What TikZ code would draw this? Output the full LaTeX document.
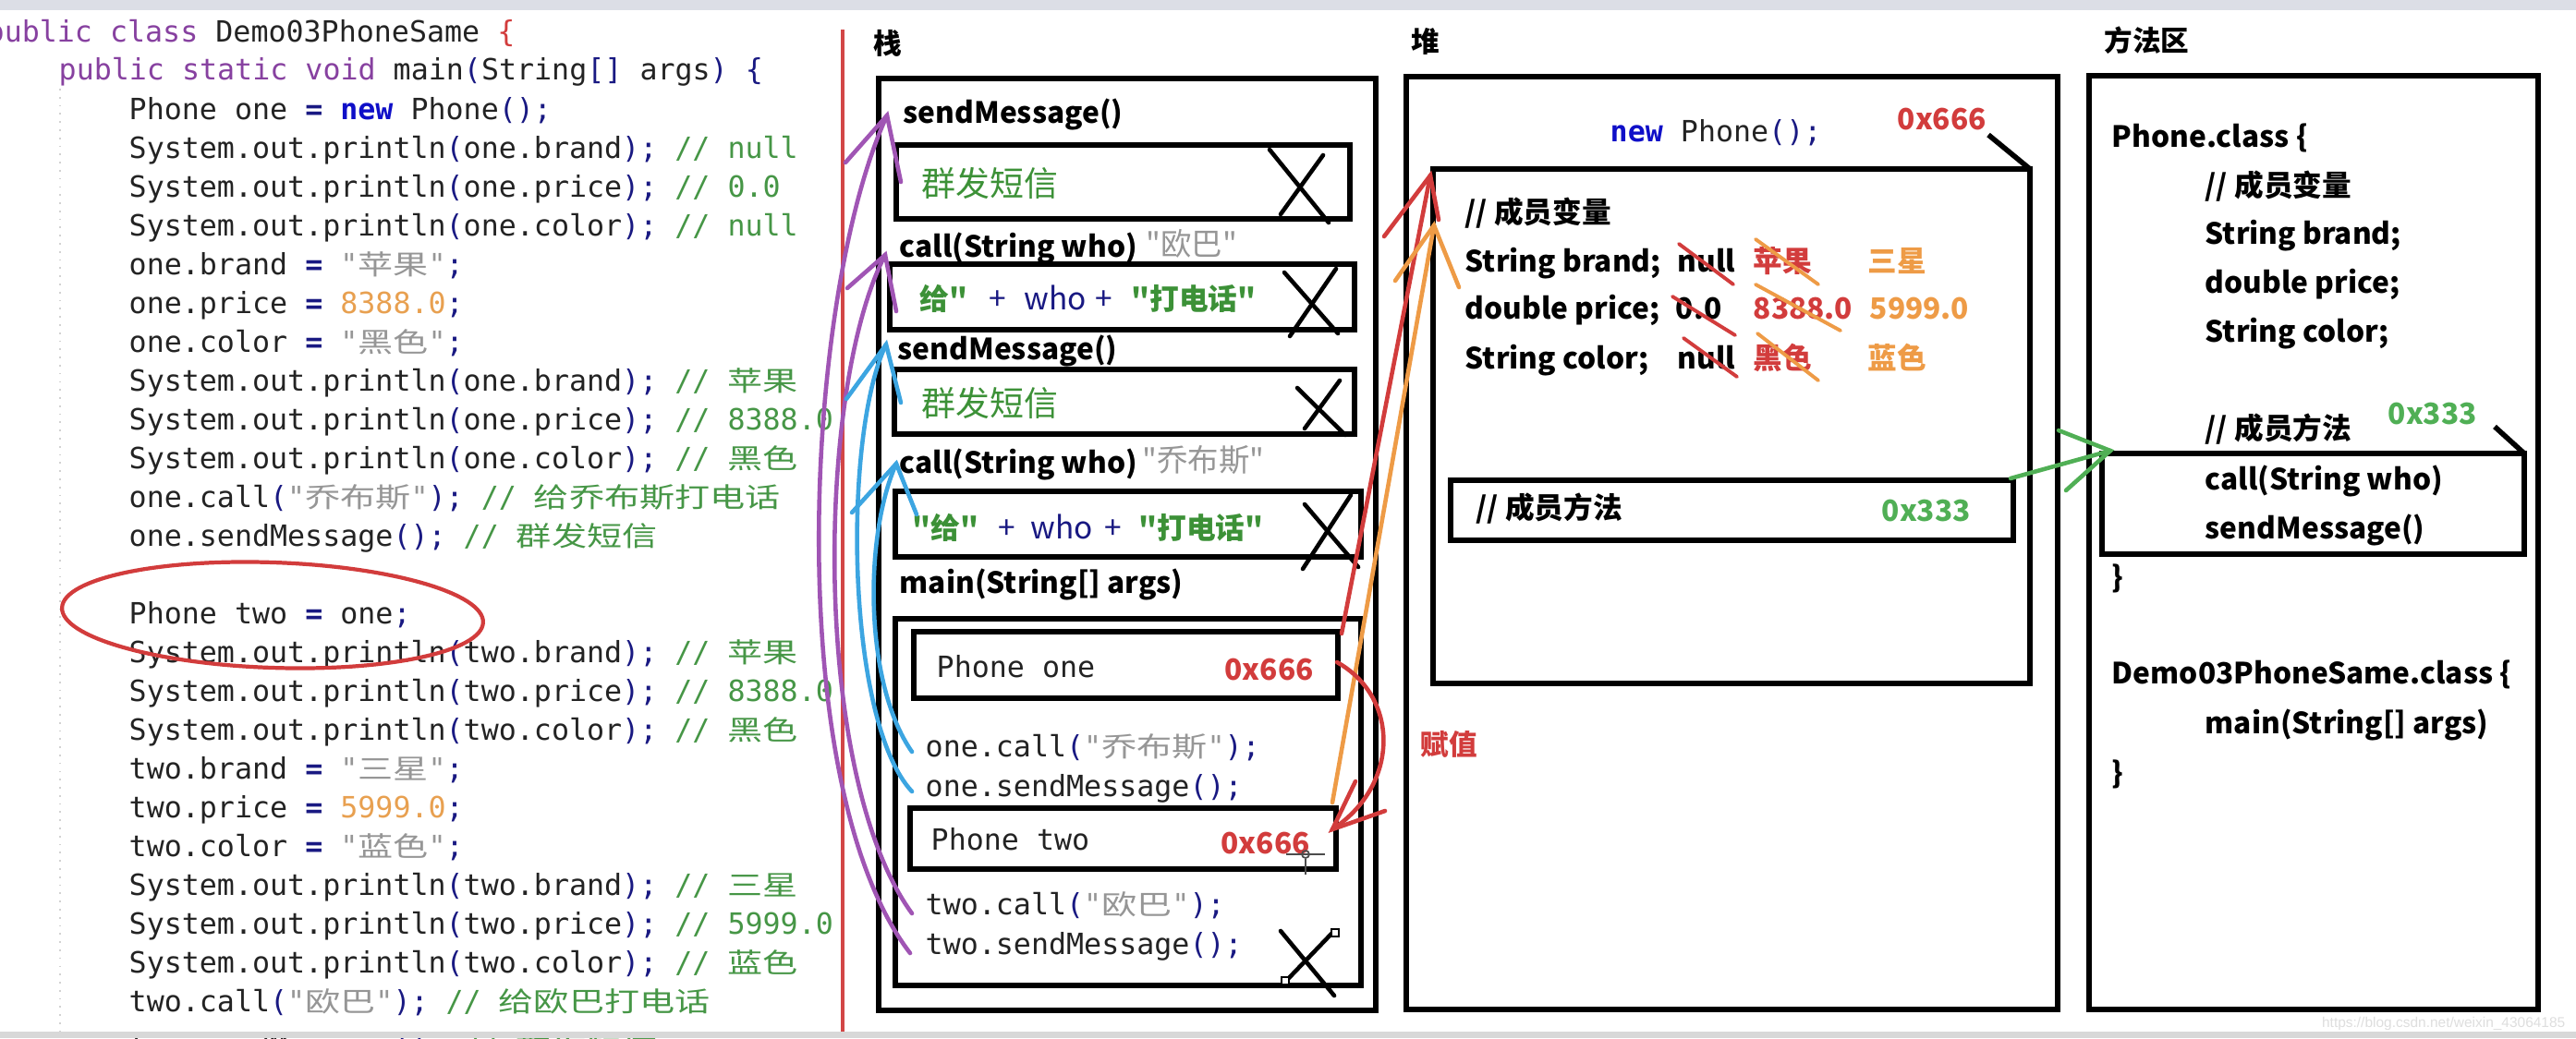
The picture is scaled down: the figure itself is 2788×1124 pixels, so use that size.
\documentclass[tikz,border=0pt]{standalone}
\usepackage{fontspec}
\newfontfamily\codefont{DejaVu Sans Mono}
\newfontfamily\cjkcode{Noto Sans CJK SC}[FakeStretch=1.29]
\newfontfamily\cjkreg{Noto Sans CJK SC}
\newfontfamily\hbase{Noto Sans CJK SC}
\newfontfamily\wmfont{Liberation Sans}
\newcommand\hb{\hbase\bfseries}
\definecolor{kwc}{RGB}{135,65,160}
\definecolor{idc}{RGB}{35,35,35}
\definecolor{pnc}{RGB}{25,25,130}
\definecolor{strc}{RGB}{150,150,150}
\definecolor{numc}{RGB}{232,160,80}
\definecolor{cmtc}{RGB}{70,150,70}
\definecolor{newc}{RGB}{15,15,200}
\definecolor{purpc}{RGB}{160,85,180}
\definecolor{bluec}{RGB}{60,165,225}
\definecolor{redc}{RGB}{210,60,60}
\definecolor{orc}{RGB}{238,155,70}
\definecolor{grc}{RGB}{80,175,85}
\definecolor{grtc}{RGB}{60,145,55}
\definecolor{topbarc}{RGB}{220,222,230}
\definecolor{botbarc}{RGB}{216,216,216}
\definecolor{wmc}{RGB}{222,222,222}
\newcommand\cz[1]{{\cjkcode\fontsize{8.4}{10}\selectfont #1}}
\newcommand\cK[1]{\textcolor{kwc}{#1}}
\newcommand\cN[1]{\textcolor{pnc}{#1}}
\newcommand\cQ[1]{\textcolor{pnc}{\bfseries #1}}
\newcommand\cS[1]{\textcolor{strc}{#1}}
\newcommand\cU[1]{\textcolor{numc}{#1}}
\newcommand\cC[1]{\textcolor{cmtc}{#1}}
\tikzset{
  codetxt/.style={anchor=base west, inner sep=0pt, font=\codefont\fontsize{9}{10}\selectfont, text=idc},
  bt/.style={anchor=base west, inner sep=0pt, font=\hb\fontsize{9}{11}\selectfont, text=black},
  gbt/.style={bt, text=grtc},
  pl/.style={anchor=base west, inner sep=0pt, font=\hbase\fontsize{9.5}{11}\selectfont, text=pnc},
  grt/.style={anchor=base west, inner sep=0pt, font=\cjkreg\fontsize{10.5}{12}\selectfont, text=grtc},
  qt/.style={anchor=base west, inner sep=0pt, font=\cjkreg\fontsize{9.5}{11}\selectfont, text=strc},
  lbl/.style={anchor=base west, inner sep=0pt, font=\hb\fontsize{8.7}{10}\selectfont},
  bx/.style={draw=black, line width=1.6pt},
  xl/.style={draw=black, line width=1.3pt, line cap=round},
  purp/.style={draw=purpc, line width=1.3pt, line cap=round},
  blu/.style={draw=bluec, line width=1.3pt, line cap=round},
  rd/.style={draw=redc, line width=1.3pt, line cap=round},
  orn/.style={draw=orc, line width=1.3pt, line cap=round},
  grn/.style={draw=grc, line width=1.3pt, line cap=round},
  strk/.style={line width=1.1pt, line cap=round},
}
\begin{document}
\begin{tikzpicture}[x=0.01cm,y=-0.01cm]
\useasboundingbox (0,0) rectangle (2788,1124);
\fill[white] (0,0) rectangle (2788,1124);
\fill[topbarc] (0,0) rectangle (2788,11);
\draw[gray!35, dotted, line width=0.5pt] (65,96) -- (65,1118);

% ---------------- code ----------------
\node[codetxt] (L0) at (-15,45) {\cK{public class} Demo03PhoneSame \textcolor{redc}{\{}};
\node[codetxt] (L1) at (63,87) {\cK{public static void} main\cN{(}String\cN{[]} args\cN{)} \cN{\{}};
\node[codetxt] (L2) at (139,45+42*2) {Phone one \cQ{=} \textcolor{newc}{\bfseries new} Phone\cN{();}};
\node[codetxt] (L3) at (139,45+42*3) {System.out.println\cN{(}one.brand\cN{);} \cC{// null}};
\node[codetxt] (L4) at (139,45+42*4) {System.out.println\cN{(}one.price\cN{);} \cC{// 0.0}};
\node[codetxt] (L5) at (139,45+42*5) {System.out.println\cN{(}one.color\cN{);} \cC{// null}};
\node[codetxt] (L6) at (139,45+42*6) {one.brand \cQ{=} \cS{"\cz{苹果}"}\cN{;}};
\node[codetxt] (L7) at (139,45+42*7) {one.price \cQ{=} \cU{8388.0}\cN{;}};
\node[codetxt] (L8) at (139,45+42*8) {one.color \cQ{=} \cS{"\cz{黑色}"}\cN{;}};
\node[codetxt] (L9) at (139,45+42*9) {System.out.println\cN{(}one.brand\cN{);} \cC{// \cz{苹果}}};
\node[codetxt] (L10) at (139,45+42*10) {System.out.println\cN{(}one.price\cN{);} \cC{// 8388.0}};
\node[codetxt] (L11) at (139,45+42*11) {System.out.println\cN{(}one.color\cN{);} \cC{// \cz{黑色}}};
\node[codetxt] (L12) at (139,45+42*12) {one.call\cN{(}\cS{"\cz{乔布斯}"}\cN{);} \cC{// \cz{给乔布斯打电话}}};
\node[codetxt] (L13) at (139,45+42*13) {one.sendMessage\cN{();} \cC{// \cz{群发短信}}};
\node[codetxt] (L15) at (139,45+42*15) {Phone two \cQ{=} one\cN{;}};
\node[codetxt] (L16) at (139,45+42*16) {System.out.println\cN{(}two.brand\cN{);} \cC{// \cz{苹果}}};
\node[codetxt] (L17) at (139,45+42*17) {System.out.println\cN{(}two.price\cN{);} \cC{// 8388.0}};
\node[codetxt] (L18) at (139,45+42*18) {System.out.println\cN{(}two.color\cN{);} \cC{// \cz{黑色}}};
\node[codetxt] (L19) at (139,45+42*19) {two.brand \cQ{=} \cS{"\cz{三星}"}\cN{;}};
\node[codetxt] (L20) at (139,45+42*20) {two.price \cQ{=} \cU{5999.0}\cN{;}};
\node[codetxt] (L21) at (139,45+42*21) {two.color \cQ{=} \cS{"\cz{蓝色}"}\cN{;}};
\node[codetxt] (L22) at (139,45+42*22) {System.out.println\cN{(}two.brand\cN{);} \cC{// \cz{三星}}};
\node[codetxt] (L23) at (139,45+42*23) {System.out.println\cN{(}two.price\cN{);} \cC{// 5999.0}};
\node[codetxt] (L24) at (139,45+42*24) {System.out.println\cN{(}two.color\cN{);} \cC{// \cz{蓝色}}};
\node[codetxt] (L25) at (139,45+42*25) {two.call\cN{(}\cS{"\cz{欧巴}"}\cN{);} \cC{// \cz{给欧巴打电话}}};
\node[codetxt] (L26) at (139,1143) {two.sendMessage\cN{();} \cC{// \cz{群发短信}}};

\draw[redc, line width=1.2pt, rotate around={-2:(295,666)}] (295,666) ellipse [x radius=228, y radius=57];
\draw[draw={rgb,255:red,210;green,70;blue,70}, line width=1.4pt] (912,32) -- (912,1118);

% ---------------- stack ----------------
\node[lbl] (stk) at (945,58) {栈};
\draw[bx] (951,85) rectangle (1489,1094);
\node[bt] (s1) at (977,133) {sendMessage()};
\draw[bx] (970,157) rectangle (1461,237);
\node[grt] (g1) at (997,212) {群发短信};
\node[bt] (c1) at (973,278) {call(String who)};
\node[qt] (c1q) at (1240,276) {"欧巴"};
\draw[bx] (963,286) rectangle (1466,357);
\node[gbt] (t1a) at (995,335) {给"};
\node[pl] (t1b) at (1070,335) {+};
\node[pl] (t1c) at (1108,335) {who};
\node[pl] (t1d) at (1185,335) {+};
\node[gbt] (t1e) at (1224,335) {"打电话"};
\node[bt] (s2) at (971,389) {sendMessage()};
\draw[bx] (968,400) rectangle (1466,470);
\node[grt] (g2) at (997,450) {群发短信};
\node[bt] (c2) at (973,512) {call(String who)};
\node[qt] (c2q) at (1236,510) {"乔布斯"};
\draw[bx] (969,532) rectangle (1473,603);
\node[gbt] (t2a) at (987,583) {"给"};
\node[pl] (t2b) at (1080,583) {+};
\node[pl] (t2c) at (1115,583) {who};
\node[pl] (t2d) at (1195,583) {+};
\node[gbt] (t2e) at (1232,583) {"打电话"};
\node[bt] (mn) at (973,642) {main(String[] args)};
\draw[bx] (969,670) rectangle (1473,1067);
\draw[bx] (989,684) rectangle (1448,756);
\node[codetxt] (p1) at (1013,733) {Phone one};
\node[bt, text=redc] (a1) at (1325,736) {0x666};
\node[codetxt] (oc) at (1001,819) {one.call\cN{(}\cS{"\cz{乔布斯}"}\cN{);}};
\node[codetxt] (os) at (1001,862) {one.sendMessage\cN{();}};
\draw[bx] (985,875) rectangle (1446,941);
\node[codetxt] (p2) at (1007,920) {Phone two};
\node[bt, text=redc] (a2) at (1321,924) {0x666};
\node[codetxt] (tc) at (1001,990) {two.call\cN{(}\cS{"\cz{欧巴}"}\cN{);}};
\node[codetxt] (ts) at (1001,1033) {two.sendMessage\cN{();}};

% crosses
\draw[xl] (1374,162) -- (1438,241); \draw[xl] (1432,168) -- (1386,232);
\draw[xl] (1390,295) -- (1448,361); \draw[xl] (1446,291) -- (1396,364);
\draw[xl] (1404,420) -- (1456,471); \draw[xl] (1450,412) -- (1412,464);
\draw[xl] (1412,546) -- (1470,614); \draw[xl] (1462,536) -- (1410,616);
\draw[xl] (1386,1008) -- (1444,1078); \draw[xl] (1442,1010) -- (1392,1062);
\draw[fill=white, line width=0.4pt] (1441,1006) rectangle (1449,1014);
\draw[fill=white, line width=0.4pt] (1387,1058) rectangle (1395,1066);
% cursor
\draw[black!70, line width=0.5pt] (1413,925) circle [radius=4];
\draw[black!70, line width=0.5pt] (1392,925) -- (1434,925);
\draw[black!70, line width=0.5pt] (1413,930) -- (1413,947);

% ---------------- heap ----------------
\node[lbl] (hl) at (1527,57) {堆};
\draw[bx] (1522,83) rectangle (2227,1093);
\node[codetxt] (hn) at (1742,153) {\textcolor{newc}{\bfseries new} Phone\cN{();}};
\node[bt, text=redc] (ha) at (2053,140) {0x666};
\draw[bx] (1551,183) rectangle (2197,740);
\draw[bx] (2152,146) -- (2197,183);
\node[bt] (hv) at (1585,241) {// 成员变量};
\node[bt] (hb1) at (1585,294) {String brand;};
\node[bt] (hb2) at (1585,345) {double price;};
\node[bt] (hb3) at (1585,399) {String color;};
\node[bt] (v11) at (1815,294) {null};
\node[bt, text=redc] (v12) at (1897,294) {苹果};
\node[bt, text=orc] (v13) at (2021,294) {三星};
\node[bt] (v21) at (1813,345) {0.0};
\node[bt, text=redc] (v22) at (1897,345) {8388.0};
\node[bt, text=orc] (v23) at (2023,345) {5999.0};
\node[bt] (v31) at (1815,399) {null};
\node[bt, text=redc] (v32) at (1897,399) {黑色};
\node[bt, text=orc] (v33) at (2021,399) {蓝色};
\draw[strk, redc] (1817,264) -- (1876,308);
\draw[strk, redc] (1810,321) -- (1878,363);
\draw[strk, redc] (1822,366) -- (1880,408);
\draw[strk, orc] (1900,259) -- (1968,308);
\draw[strk, orc] (1900,308) -- (1992,358);
\draw[strk, orc] (1902,361) -- (1968,412);
\draw[bx] (1570,520) rectangle (2179,585);
\node[bt] (hm) at (1597,561) {// 成员方法};
\node[bt, text=grc] (hg) at (2036,564) {0x333};
\node[anchor=center, inner sep=0pt, font=\hb\fontsize{8.7}{10}\selectfont, text=redc] (fz) at (1568,806) {赋值};

% ---------------- method area ----------------
\node[lbl] (ml) at (2277,55) {方法区};
\draw[bx] (2261,82) rectangle (2747,1093);
\node[bt] (m1) at (2285,159) {Phone.class \{};
\node[bt] (m2) at (2386,212) {// 成员变量};
\node[bt] (m3) at (2386,264) {String brand;};
\node[bt] (m4) at (2386,317) {double price;};
\node[bt] (m5) at (2386,370) {String color;};
\node[bt] (m6) at (2386,475) {// 成员方法};
\node[bt, text=grc] (m7) at (2584,459) {0x333};
\draw[bx] (2275,491) rectangle (2732,600);
\draw[bx] (2700,462) -- (2732,491);
\node[bt] (m8) at (2386,530) {call(String who)};
\node[bt] (m9) at (2386,583) {sendMessage()};
\node[bt] (m10) at (2285,636) {\}};
\node[bt] (m11) at (2285,740) {Demo03PhoneSame.class \{};
\node[bt] (m12) at (2386,794) {main(String[] args)};
\node[bt] (m13) at (2285,848) {\}};

% ---------------- connectors ----------------
\coordinate (pS1) at (985,1032); \coordinate (pT1) at (960,125);
\coordinate (pS2) at (987,989);  \coordinate (pT2) at (958,276);
\coordinate (bS1) at (987,857);  \coordinate (bT1) at (959,373);
\coordinate (bS2) at (987,814);  \coordinate (bT2) at (970,502);
\draw[purp] (pS1) .. controls (845,850) and (870,320) .. (pT1);
\draw[purp] (915,176) -- (pT1) -- (975,197);
\draw[purp] (pS2) .. controls (878,840) and (883,420) .. (pT2);
\draw[purp] (917,312) -- (pT2) -- (970,337);
\draw[blu] (bS1) .. controls (915,780) and (912,470) .. (bT1);
\draw[blu] (916,432) -- (bT1) -- (975,436);
\draw[blu] (bS2) .. controls (935,740) and (935,580) .. (bT2);
\draw[blu] (922,555) -- (bT2) -- (992,557);

\coordinate (rS) at (1452,686); \coordinate (rT) at (1548,190);
\draw[rd] (rS) -- (rT);
\draw[rd] (1498,256) -- (rT) -- (1557,238);
\coordinate (oS) at (1442,869); \coordinate (oT) at (1552,244);
\draw[orn] (oS) -- (oT);
\draw[orn] (1510,304) -- (oT) -- (1579,311);
\coordinate (cS) at (1447,717); \coordinate (cT) at (1442,898);
\draw[rd] (cS) .. controls (1515,755) and (1515,850) .. (cT);
\draw[rd] (1467,846) -- (cT) -- (1499,878);
\coordinate (gS) at (2176,518); \coordinate (gT) at (2284,488);
\draw[grn] (gS) -- (gT);
\draw[grn] (2228,466) -- (gT) -- (2236,531);

\fill[botbarc] (0,1117) rectangle (2788,1124);
\node[anchor=base east, inner sep=0pt, font=\wmfont\fontsize{4.4}{5}\selectfont, text=wmc] (wm) at (2777,1112) {https://blog.csdn.net/weixin\_43064185};
\end{tikzpicture}
\end{document}
